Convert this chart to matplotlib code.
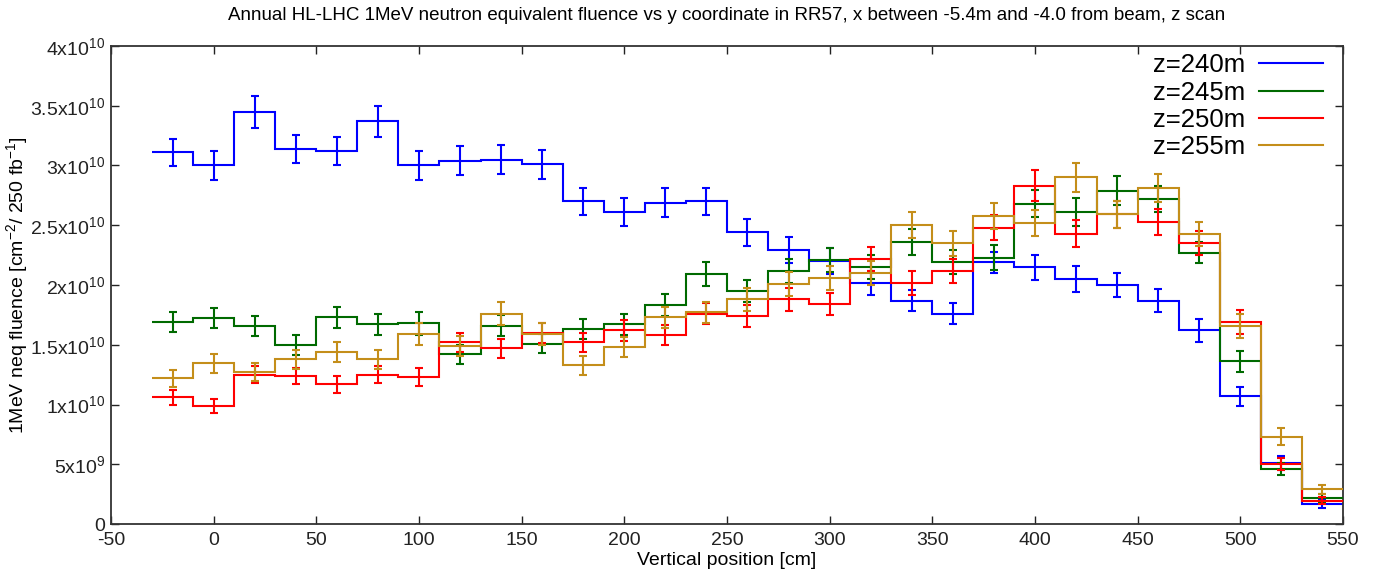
import numpy as np
import matplotlib
matplotlib.use("Agg")
import matplotlib.pyplot as plt
from matplotlib.ticker import FixedLocator, FuncFormatter

plt.rcParams['font.family'] = ['Liberation Sans', 'DejaVu Sans']
plt.rcParams['mathtext.default'] = 'regular'
plt.rcParams['axes.unicode_minus'] = False

# bin centres [cm] and fluence in units of 1e10 cm^-2 / 250 fb^-1
centers = np.arange(-20, 541, 20)

blue = [3.11, 3.00, 3.45, 3.14, 3.12, 3.37, 3.00, 3.04, 3.05, 3.01,
        2.70, 2.61, 2.69, 2.70, 2.44, 2.29, 2.20, 2.02, 1.87, 1.76,
        2.19, 2.15, 2.05, 2.00, 1.87, 1.62, 1.07, 0.51, 0.17]
blue_err = [0.115, 0.12, 0.135, 0.117, 0.12, 0.13, 0.12, 0.12, 0.124, 0.12,
            0.113, 0.117, 0.12, 0.113, 0.11, 0.11, 0.11, 0.10, 0.09, 0.09,
            0.09, 0.105, 0.105, 0.10, 0.096, 0.098, 0.08, 0.06, 0.04]

green = [1.69, 1.72, 1.66, 1.50, 1.73, 1.67, 1.68, 1.42, 1.66, 1.51,
         1.63, 1.67, 1.83, 2.09, 1.95, 2.12, 2.21, 2.15, 2.36, 2.19,
         2.23, 2.68, 2.61, 2.79, 2.72, 2.27, 1.36, 0.46, 0.22]
green_err = [0.085, 0.084, 0.084, 0.082, 0.089, 0.09, 0.095, 0.077, 0.09, 0.08,
             0.085, 0.088, 0.092, 0.10, 0.095, 0.10, 0.10, 0.10, 0.105, 0.10,
             0.105, 0.113, 0.114, 0.118, 0.107, 0.09, 0.09, 0.05, 0.035]

red = [1.06, 0.99, 1.25, 1.24, 1.17, 1.25, 1.23, 1.52, 1.47, 1.60,
       1.52, 1.62, 1.58, 1.76, 1.74, 1.88, 1.84, 2.22, 2.02, 2.12,
       2.48, 2.83, 2.43, 2.59, 2.53, 2.35, 1.69, 0.50, 0.195]
red_err = [0.063, 0.057, 0.07, 0.067, 0.07, 0.07, 0.077, 0.08, 0.08, 0.085,
           0.08, 0.085, 0.085, 0.09, 0.09, 0.095, 0.095, 0.10, 0.10, 0.10,
           0.105, 0.13, 0.11, 0.11, 0.11, 0.10, 0.10, 0.05, 0.03]

gold = [1.22, 1.345, 1.27, 1.38, 1.44, 1.38, 1.59, 1.49, 1.76, 1.59,
        1.33, 1.48, 1.73, 1.77, 1.88, 2.01, 2.06, 2.10, 2.50, 2.35,
        2.58, 2.52, 2.90, 2.59, 2.81, 2.43, 1.66, 0.73, 0.29]
gold_err = [0.07, 0.08, 0.075, 0.08, 0.085, 0.08, 0.09, 0.085, 0.095, 0.09,
            0.08, 0.085, 0.09, 0.09, 0.095, 0.10, 0.10, 0.10, 0.11, 0.105,
            0.11, 0.11, 0.12, 0.11, 0.115, 0.10, 0.10, 0.07, 0.04]

labels = ['z=240m', 'z=245m', 'z=250m', 'z=255m']
colors = ['#0000ff', '#006a00', '#ff0000', '#c48e1a']
series = [(blue, blue_err), (green, green_err), (red, red_err), (gold, gold_err)]

scale = 1e10
half = (centers[1] - centers[0]) / 2
edges = np.append(centers - half, centers[-1] + half)

fig = plt.figure(figsize=(13.75, 5.7), dpi=100)
ax = fig.add_axes([0.0807, 0.0807, 0.8960, 0.8386])

for i, ((vals, errs), col, lab) in enumerate(zip(series, colors, labels)):
    v = np.array(vals) * scale
    e = np.array(errs) * scale
    ax.stairs(v, edges, baseline=None, color=col, lw=1.5, label=lab, zorder=2 + i)
    ax.errorbar(centers, v, yerr=e, fmt='none', ecolor=col, elinewidth=1.5,
                capsize=2.6, capthick=1.5, zorder=2 + i)

ax.set_xlim(-50, 550)
ax.set_ylim(0, 4e10)
ax.xaxis.set_major_locator(FixedLocator(np.arange(-50, 551, 50)))
ax.yaxis.set_major_locator(FixedLocator(np.arange(0, 4.01e10, 5e9)))


def sci_fmt(y, pos):
    if y == 0:
        return '0'
    exp = int(np.floor(np.log10(y)))
    mant = y / 10 ** exp
    m = ('%g' % mant)
    return m + 'x10$^{%d}$' % exp


ax.yaxis.set_major_formatter(FuncFormatter(sci_fmt))
ax.tick_params(direction='in', length=6, width=1, top=True, right=True,
               labelsize=14, colors='#222222', pad=4)
ax.tick_params(axis='x', pad=6)
for s in ax.spines.values():
    s.set_linewidth(1.3)
    s.set_color('#333333')

ax.set_title('Annual HL-LHC 1MeV neutron equivalent fluence vs y coordinate in RR57, '
             'x between -5.4m and -4.0 from beam, z scan', fontsize=13.5, pad=19)
ax.set_xlabel('Vertical position [cm]', fontsize=14, labelpad=2)
ax.set_ylabel('1MeV neq fluence [cm$^{-2}$/ 250 fb$^{-1}$]', fontsize=14, labelpad=0)

leg = ax.legend(loc='upper right', frameon=False, markerfirst=False, fontsize=18.5,
                handlelength=2.5, handletextpad=0.55, labelspacing=0.13,
                borderpad=0, borderaxespad=0, bbox_to_anchor=(0.984, 0.985))

fig.savefig('out.png', dpi=100)
